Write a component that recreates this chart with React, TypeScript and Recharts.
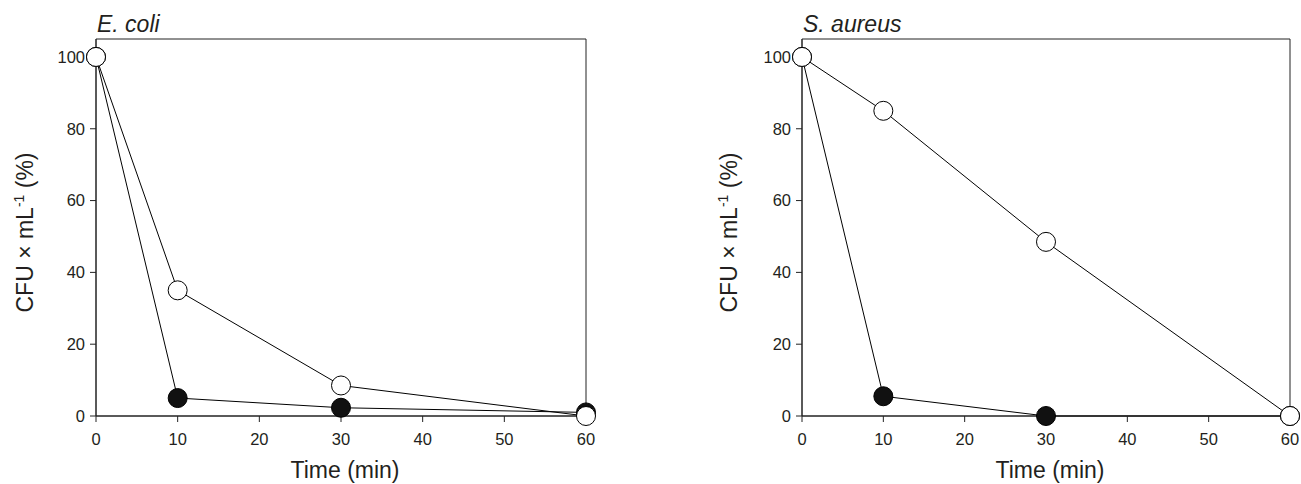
import React from 'react';
import { LineChart, Line, XAxis, YAxis, ReferenceArea, Customized } from 'recharts';

const times = [0, 10, 30, 60];
const ecoliOpen = [100, 35, 8.5, 0];
const ecoliFilled = [100, 5, 2.3, 1];
const aureusOpen = [100, 85, 48.5, 0];
const aureusFilled = [100, 5.5, 0, 0];
const xTicks = [0, 10, 20, 30, 40, 50, 60];
const yTicks = [0, 20, 40, 60, 80, 100];
const titles = ['E. coli', 'S. aureus'];
const xLabel = 'Time (min)';

const FONT = '"Liberation Sans", Arial, Helvetica, sans-serif';
const TXT = '#231f20';

function buildData(open: number[], filled: number[]) {
  return times.map((t, i) => ({ t, open: open[i], filled: filled[i] }));
}

type PanelProps = {
  data: { t: number; open: number; filled: number }[];
  title: string;
  left: number;
  width: number;
  yAxisWidth: number;
  rightMargin: number;
  yLabelX: number;
};

function Panel({ data, title, left, width, yAxisWidth, rightMargin, yLabelX }: PanelProps) {
  const plotLeft = yAxisWidth;
  const plotRight = width - rightMargin;
  const cx = (plotLeft + plotRight) / 2 + 4;
  const Texts = () => (
    <g fontFamily={FONT} fill={TXT}>
      <text x={plotLeft + 1} y={32} fontSize={23} fontStyle="italic">{title}</text>
      <text x={cx} y={478} fontSize={23} textAnchor="middle">{xLabel}</text>
      <text
        x={yLabelX}
        y={232.5}
        fontSize={23}
        textAnchor="middle"
        transform={`rotate(-90, ${yLabelX}, 232.5)`}
      >
        CFU × mL<tspan fontSize={14} dy={-9}>-1</tspan>
        <tspan dy={9}> (%)</tspan>
      </text>
    </g>
  );
  return (
    <div style={{ position: 'absolute', left, top: 0, width, height: 484 }}>
      <LineChart
        width={width}
        height={484}
        data={data}
        margin={{ top: 39, right: rightMargin, left: 0, bottom: 0 }}
      >
        <XAxis
          dataKey="t"
          type="number"
          domain={[0, 60]}
          ticks={xTicks}
          height={68}
          tickSize={6}
          tickMargin={11}
          axisLine={{ stroke: '#222', strokeWidth: 1 }}
          tickLine={{ stroke: '#222', strokeWidth: 1 }}
          tick={{ fontSize: 16.5, fill: TXT, fontFamily: FONT }}
        />
        <YAxis
          type="number"
          domain={[0, 105]}
          ticks={yTicks}
          width={yAxisWidth}
          tickSize={6}
          tickMargin={5}
          axisLine={{ stroke: '#222', strokeWidth: 1 }}
          tickLine={{ stroke: '#222', strokeWidth: 1 }}
          tick={{ fontSize: 16.5, fill: TXT, fontFamily: FONT }}
        />
        <ReferenceArea
          x1={0}
          x2={60}
          y1={0}
          y2={105}
          fill="none"
          stroke="#222"
          strokeWidth={1}
          ifOverflow="visible"
        />
        <Line
          dataKey="filled"
          type="linear"
          stroke="#000"
          strokeWidth={1}
          dot={{ r: 9.5, fill: '#111', stroke: '#000', strokeWidth: 1 }}
          activeDot={false}
          isAnimationActive={false}
        />
        <Line
          dataKey="open"
          type="linear"
          stroke="#000"
          strokeWidth={1}
          dot={{ r: 9.5, fill: '#fff', stroke: '#000', strokeWidth: 1 }}
          activeDot={false}
          isAnimationActive={false}
        />
        <Customized component={Texts} />
      </LineChart>
    </div>
  );
}

export default function App() {
  return (
    <div style={{ position: 'absolute', left: 0, top: 0, width: 1301, height: 484, background: '#fff' }}>
      <Panel
        data={buildData(ecoliOpen, ecoliFilled)}
        title={titles[0]}
        left={0}
        width={650}
        yAxisWidth={96}
        rightMargin={64}
        yLabelX={33}
      />
      <Panel
        data={buildData(aureusOpen, aureusFilled)}
        title={titles[1]}
        left={650}
        width={651}
        yAxisWidth={152}
        rightMargin={11}
        yLabelX={87}
      />
    </div>
  );
}
